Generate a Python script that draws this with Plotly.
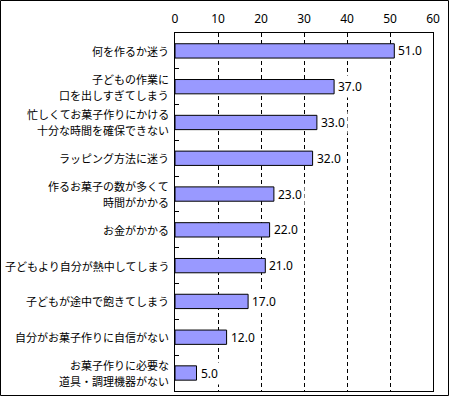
import plotly.graph_objects as go

categories = [
    "何を作るか迷う",
    "子どもの作業に<br>口を出しすぎてしまう",
    "忙しくてお菓子作りにかける<br>十分な時間を確保できない",
    "ラッピング方法に迷う",
    "作るお菓子の数が多くて<br>時間がかかる",
    "お金がかかる",
    "子どもより自分が熱中してしまう",
    "子どもが途中で飽きてしまう",
    "自分がお菓子作りに自信がない",
    "お菓子作りに必要な<br>道具・調理機器がない",
]
values = [51.0, 37.0, 33.0, 32.0, 23.0, 22.0, 21.0, 17.0, 12.0, 5.0]
x_ticks = [0, 10, 20, 30, 40, 50, 60]

W, H = 450, 397
L, R, T, B = 175, 433, 33, 391

font_family = "Noto Sans CJK JP, Noto Sans, sans-serif"

fig = go.Figure(
    go.Bar(
        x=values,
        y=categories,
        orientation="h",
        width=0.4,
        marker=dict(color="#9999FF", line=dict(color="black", width=1)),
        cliponaxis=False,
    )
)

fig.update_layout(
    template="none",
    width=W,
    height=H,
    margin=dict(l=L, r=W - R, t=T, b=H - B, pad=0),
    paper_bgcolor="white",
    plot_bgcolor="white",
    showlegend=False,
    font=dict(family=font_family, size=11, color="black"),
    xaxis=dict(
        side="top",
        range=[0, 60],
        tickvals=x_ticks,
        ticktext=[str(t) for t in x_ticks],
        showgrid=True,
        gridcolor="black",
        gridwidth=1,
        griddash="4px,3px",
        showline=True,
        linecolor="black",
        linewidth=1,
        mirror=True,
        ticks="",
        zeroline=False,
        automargin=False,
        ticklabelstandoff=4,
        tickfont=dict(size=12, color="black", family="Noto Sans, sans-serif"),
        fixedrange=True,
    ),
    yaxis=dict(
        categoryorder="array",
        categoryarray=categories,
        autorange="reversed",
        showline=True,
        linecolor="black",
        linewidth=1,
        mirror=True,
        ticks="inside",
        ticklen=4,
        tickcolor="black",
        tickson="boundaries",
        showgrid=False,
        zeroline=False,
        automargin=False,
        showticklabels=False,
        fixedrange=True,
    ),
)

# value labels just right of each bar end, on a white box masking gridlines
for cat, v in zip(categories, values):
    fig.add_annotation(
        x=v,
        xref="x",
        y=cat,
        yref="y",
        text=f"{v:.1f}",
        showarrow=False,
        xanchor="left",
        yanchor="middle",
        xshift=1,
        bgcolor="white",
        borderpad=2,
        font=dict(size=12, color="black", family="Noto Sans, sans-serif"),
    )

# category labels, one annotation per line for reference-like line spacing
line_gap = 16
for cat in categories:
    lines = cat.split("<br>")
    n = len(lines)
    for i, ln in enumerate(lines):
        shift = ((n - 1) / 2 - i) * line_gap
        fig.add_annotation(
            x=0,
            xref="paper",
            y=cat,
            yref="y",
            text=ln,
            showarrow=False,
            xanchor="right",
            yanchor="middle",
            xshift=-4,
            yshift=shift,
            font=dict(size=11, color="black", family=font_family),
        )

pw = R - L
ph = B - T
def px_x(p):
    return (p - L) / pw
def px_y(p):
    return (B - p) / ph

fig.add_shape(
    type="rect",
    xref="paper",
    yref="paper",
    x0=px_x(0.5),
    x1=px_x(448.5),
    y0=px_y(395.5),
    y1=px_y(0.5),
    line=dict(color="black", width=1),
    fillcolor="rgba(0,0,0,0)",
    layer="above",
)

fig.write_html(
    "out.html",
    config={"displayModeBar": False},
    post_script="document.body.style.margin='0px';document.body.style.overflow='hidden';",
)
